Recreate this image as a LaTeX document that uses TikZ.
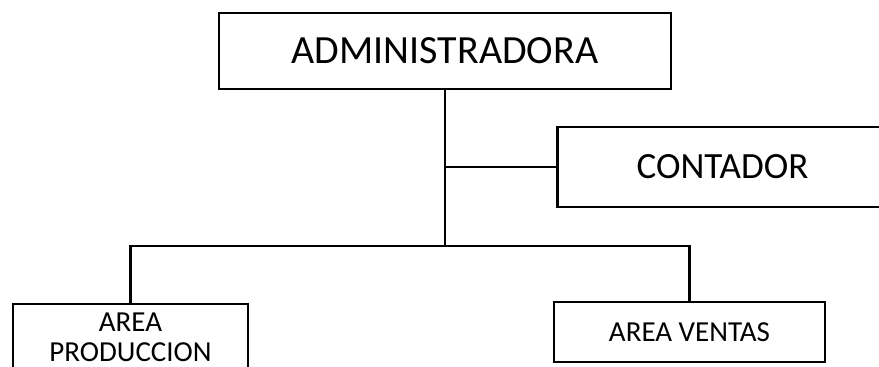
\documentclass[tikz,border=0pt]{standalone}
\usepackage{fontspec}
\setmainfont{Carlito}
\begin{document}
\begin{tikzpicture}[x=1pt,y=-1pt,
  box/.style={draw,line width=2.2pt,rectangle,inner sep=0pt,fill=white},
  link/.style={draw,line width=2.2pt}]
\useasboundingbox (0,0) rectangle (879,367);
\clip (0,0) rectangle (879,367);
\node[box,minimum width=452pt,minimum height=76pt,font=\fontsize{40}{46}\selectfont] (adm) at (445,51) {ADMINISTRADORA};
\node[box,minimum width=330pt,minimum height=80pt,font=\fontsize{37}{44}\selectfont] (cont) at (722.5,167) {CONTADOR};
\node[box,minimum width=235pt,minimum height=66pt,align=center,font=\fontsize{29}{30}\selectfont] (prod) at (130.5,337) {AREA\\PRODUCCION};
\node[box,minimum width=271pt,minimum height=60pt,font=\fontsize{29}{30}\selectfont] (vent) at (689.5,331.7) {AREA VENTAS};
\coordinate (j) at (445,246);
\draw[link] (adm.south) -- (j);
\draw[link] (prod.north) |- (j) -| (vent.north);
\draw[link] (cont.west) -- (cont.west -| adm.south);
\end{tikzpicture}
\end{document}
